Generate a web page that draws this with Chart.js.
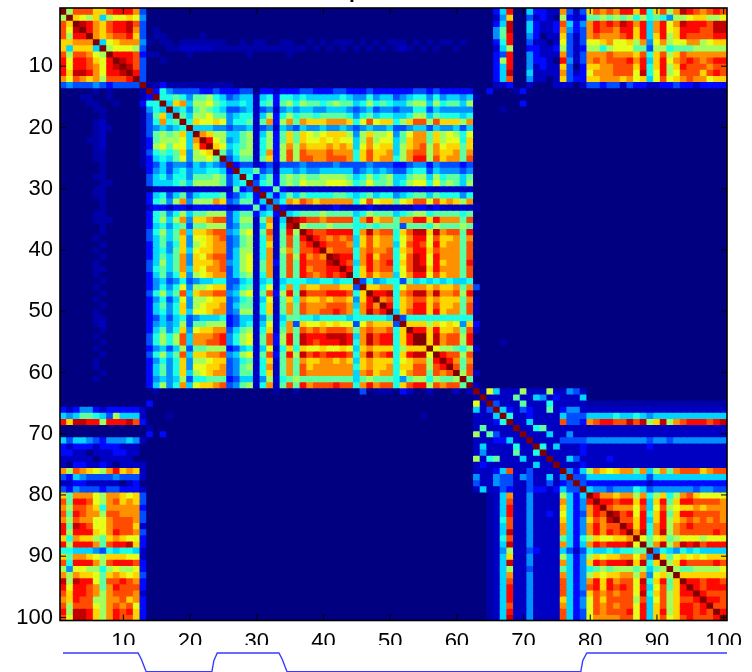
<!DOCTYPE html>
<html>
<head>
<meta charset="utf-8">
<title>Similarity matrix</title>
<script src="https://cdn.jsdelivr.net/npm/chart.js@4/dist/chart.umd.min.js"></script>
<style>
  body { margin: 0; background: #fff; }
  #wrap { position: relative; width: 752px; height: 672px; overflow: hidden; }
  canvas { position: absolute; left: 0; filter: blur(0.4px); }
  #matrixChart { top: 0; }
  #groupChart { top: 645px; background: #fff; }
</style>
</head>
<body>
<div id="wrap">
  <canvas id="matrixChart" width="752" height="672"></canvas>
  <canvas id="groupChart" width="752" height="27"></canvas>
</div>
<script>
const xTicks = [10, 20, 30, 40, 50, 60, 70, 80, 90, 100]
const yTicks = [10, 20, 30, 40, 50, 60, 70, 80, 90, 100]

// lower triangle of the symmetric matrix, one hex digit per cell, 0 = navy .. f = dark red
// n = barely above navy. spaces every 10 columns just to keep the counting sane
const cellRows = [
  `f`,
  `8f`,
  `caf`,
  `c9ef`,
  `c8ddf`,
  `aabbbf`,
  `a5aaa5f`,
  `c8ccb98f`,
  `d9ddca9df`,
  `d9ddcb9def`,
  `daeedb9dde f`,
  `b9cbab8ccc df`,
  `3433343233 33f`,
  `00000n0n00 00nf`,
  `000nn00n00 00n2f`,
  `0000nn00n0 00266f`,
  `00000nn000 00n465f`,
  `000000n000 00n37a5f`,
  `00000n1000 00n36b67f`,
  `00000n1n00 00n345456f`,
  `00000n1000 00n37878a5 f`,
  `0000nn1000 00n2788895 bf`,
  `00000n1000 00n2897995 adf`,
  `00000nn000 00n36767a4 89af`,
  `00000nn000 00n2565794 8897f`,
  `000000n000 00n2353443 54543f`,
  `000000n000 0002453564 556652f`,
  `00000nn000 0003564664 7778735f`,
  `000000nn00 0003555675 88887356f`,
  `00000nn000 0000111111 111111723f`,
  `00000nn000 0002563573 5666723562 f`,
  `000000n000 00026748b4 888ba34772 5f`,
  `000000n000 0001221221 2222211227 24f`,
  `00000nn000 0002674685 7788835772 562f`,
  `00000nnn00 00026858b4 aabcc35881 7b15f`,
  `000000n000 0002564673 7788834771 5a16ef`,
  `000000n000 00036857b5 aabcc45891 7c17d8f`,
  `00000n0000 00035757a4 99abc34781 6b17c7df`,
  `000000n000 00025746a4 89abb34781 6a17c7cdf`,
  `00000n0000 00025647a5 9aabb35881 6b18b7ccdf`,
  `000000n000 00025757b4 a9bcc35891 6b17c8dbcb f`,
  `00000n0000 00035857b4 aaabc45891 7b27c7dccc ef`,
  `00000nn000 00036757b5 a9bbc35891 7b17c7dbcc ddf`,
  `00000n0000 00025746a4 89abb35781 6b17c7dcbc dcdf`,
  `000000n000 0002453463 4556633561 5615666556 6566f`,
  `00000n0000 0002464694 889aa34671 6916b6baab bbaa3f`,
  `000000n000 00036857c5 abbcc45891 7c28d7eccc dddc6af`,
  `00000n0000 0002463594 889aa34671 5917a6baab abba4adf`,
  `000000n000 00025746a4 89aab35771 6a17b7cbbb cccb5bdbf`,
  `00000n0000 00025646a5 99abb34881 6a17b7cbbc cdcb6becdf`,
  `00000nn000 0002353563 4555623551 4715776656 6665666665 f`,
  `00000n1000 0002454583 7788823561 5916b3a99a 9a9939baaa 3f`,
  `000000n000 00025746a4 9aabb35781 6a17b7cbcb cccb7bcbbc 6af`,
  `00000n0000 00036868c5 bbbcd46891 7c28d7eddd eeed5becdd 6adf`,
  `000000n000 00036868c5 bbccd46891 7c28d7edcd dded6becdd 6adff`,
  `00000n0000 0002453583 7788823561 5916a6a99a 99a95abaaa 68aaaf`,
  `000000n000 00036857c5 aabbc45891 7c27d8ecdc dddc6bebcd 6adee9f`,
  `00000n0000 00024646a4 889aa34671 6a17b7baab baba5abaaa 69abb8df`,
  `00000n0000 00025746a4 99aab34781 6b17b7cabb bbbb6abaab 6aacc8cdf`,
  `000000n000 00025746a5 89abb34771 6a17b7cbbb bbbb5bcabb 69bcc7cbcf`,
  `00000n0000 0002454583 6677723551 4816787777 7777578777 6478868778 f`,
  `0000000000 00025846b5 9aabc34781 6b17c7dbcc cdcc6bdbcc 6acdd8cbcc 7f`,
  `0000000000 0000n00000 0000000000 00n00n0000 000003 0nnn 0210010001 01f`,
  `0000000000 0000000000 0000000000 0000000000 0000000000 0000000000 00nf`,
  `0000000000 0002000000 0000000000 0000000000 0000000000 0000000000 0091f`,
  `2124421222 2210000000 0000000000 0000000000 0000000000 0000000000 00513f`,
  `5457765385 551000n000 0000000000 0000000000 0000000000 0000n00000 001115f`,
  `daeedd8ddd ec20000000 0000000000 0000000000 0000000000 0000000000 0011126f`,
  `0000000000 000n000000 0000000000 0000000000 0000000000 0000000000 00171111f`,
  `0000000000 0002020000 0000000000 0000000000 0000000000 0000000000 008173111f`,
  `5355432444 5410000000 0000000000 0000000000 0000000000 0000000000 0011122511 f`,
  `2122212221 1100000000 0000000000 0000000000 0000000000 0000000000 0015111161 1f`,
  `2211011122 1100000000 0000000000 0000000000 0000000000 0000000000 0014111171 16f`,
  `1111101111 1000000000 0000000000 0000000000 0000000000 0000000000 0081671115 111f`,
  `1022112101 1110000000 0000000000 0000000000 0000000000 0000000000 0012111111 1511f`,
  `b8cba98bda ba10000000 0000000000 0000000000 0000000000 0000000000 0011125c11 31111f`,
  `3254333343 3310000000 0000000000 0000000000 0000000000 0000000000 0041143314 311514f`,
  `1122111110 1200000000 0000000000 0000000000 0000000000 0000000000 0031143311 3113123f`,
  `3243332332 2210000000 0000000000 0000000000 0000000000 0000000000 0015113211 32212533f`,
  `a7bbb98bba 9a30000000 0000000000 0000000000 0000000000 0000000000 0000n15b11 411118525f`,
  `c7ddc98bca ba30000000 0000000000 0000000000 0000000000 0000000000 0000n15c11 41111b524d f`,
  `b8ccba6bbb bb20000000 0000000000 0000000000 0000000000 0000000000 0000n15d11 41111a524b df`,
  `c7dcbb8ccb bb30000000 0000000000 0000000000 0000000000 0000000000 0000n15d11 411219523b dcf`,
  `b8cbb99bcc cb30000000 0000000000 0000000000 0000000000 0000000000 0000n16c11 41111a524a cbef`,
  `d7edc99bcc ca10000000 0000000000 0000000000 0000000000 0000000000 0000n15c11 41111b524b dbccf`,
  `d8ddda9bdc cb30000000 0000000000 0000000000 0000000000 0000000000 0000n15e11 41111b524b dbdcdf`,
  `a6baa87aba 9920000000 0000000000 0000000000 0000000000 0000000000 0000n16c11 4111175268 a99aabf`,
  `d8dddb7cdd ea20000000 0000000000 0000000000 0000000000 0000000000 0000n15e11 41111b525b dcddde9f`,
  `6655543656 6510000000 0000000000 0000000000 0000000000 0000000000 0000n14811 3211153136 55656677f`,
  `a7bba98aaa 9910000000 0000000000 0000000000 0000000000 0000000000 0000n15a11 4111185248 a9aabb9b4f`,
  `c6dddb8cdd dc20000000 0000000000 0000000000 0000000000 0000000000 0000n15e11 41111b524a dcdddeae6a f`,
  `8499886898 8920000000 0000000000 0000000000 0000000000 0000000000 0000n15811 3111175246 7878887857 8f`,
  `b8baa97aba 9a30000000 0000000000 0000000000 0000000000 0000000000 0000n15b11 41111b5248 a9aabb8b49 a8f`,
  `e8edd97ccd cb20000000 0000000000 0000000000 0000000000 0000000000 0000n15c11 41111c524b dadbcc9e6a d7af`,
  `d9ddcb7bdc cc20000000 0000000000 0000000000 0000000000 0000000000 0000n15d11 41111c524c dadcdc9d59 c7adf`,
  `caddcb8bcc cb10000000 0000000000 0000000000 0000000000 0000000000 0000n15d11 41111c523a cbcbcc9e6a c8addf`,
  `badcc88bbc ab20000000 0000000000 0000000000 0000000000 0000000000 0000n15d11 41111a5249 cacccc8c59 c8accdf`,
  `c8ccc98bcb c920000000 0000000000 0000000000 0000000000 0000000000 0000n15c11 41111b5249 cbcbcc9d5a c8addcdf`,
  `d8eeda8bdc da20000000 0000000000 0000000000 0000000000 0000000000 0000n15d11 41111c5239 cbcccd9d5a d8addcdcf`,
  `c9eeda8bdc ca20000000 0000000000 0000000000 0000000000 0000000000 0000n15e11 41111c5239 bbbbcc9d5a c9acdcccdf`
]

// strip under the matrix: group indicator
const lineX = [1, 12.2, 12.7, 13.4, 23.2, 23.5, 24, 33.2, 33.7, 34.4, 78.2, 78.5, 79.1, 100]
const lineY = [1, 1, 0.65, 0, 0, 0.6, 1, 1, 0.65, 0, 0, 0.6, 1, 1]

const rows = cellRows.map(row => row.replace(/ /g, ``))
rows.forEach((row, i) => {
  if( row.length !== i + 1 ) throw new Error(`row ${i + 1} has ${row.length} cells`)
})
const level = (r, c) => {
  const cell = rows[Math.max(r, c)][Math.min(r, c)]
  return cell === `n` ? 0.6 : parseInt(cell, 16)
}

const jet = t => {
  const part = k => Math.round(255 * Math.min(1, Math.max(0, 1.5 - Math.abs(4 * t - k))))
  return `rgb(${part(3)},${part(2)},${part(1)})`
}

const font = { family: `"Liberation Sans"`, size: 22 }
const positions = rows.map((_, i) => i + 1)

const framePlugin = {
  id: `frame`,
  beforeDatasetsDraw: chart => {
    const { ctx, chartArea: { left, top, width, height } } = chart
    ctx.fillStyle = jet(0)
    ctx.fillRect(left, top, width, height)
  },
  afterDraw: chart => {
    const { ctx, chartArea: { left, right, top, bottom }, scales: { x, y } } = chart
    ctx.save()
    ctx.strokeStyle = `#000`
    ctx.lineWidth = 1
    xTicks.forEach(t => {
      const px = x.getPixelForValue(t - 1)
      ctx.beginPath()
      ctx.moveTo(px, bottom)
      ctx.lineTo(px, bottom - 6)
      ctx.moveTo(px, top)
      ctx.lineTo(px, top + 6)
      ctx.stroke()
    })
    yTicks.forEach(t => {
      const py = y.getPixelForValue(t)
      ctx.beginPath()
      ctx.moveTo(left, py)
      ctx.lineTo(left + 6, py)
      ctx.moveTo(right, py)
      ctx.lineTo(right - 6, py)
      ctx.stroke()
    })
    ctx.lineWidth = 1.6
    ctx.strokeRect(left, top, right - left, bottom - top)
    // title sits above the window, only the tail of the p shows
    ctx.fillStyle = `#000`
    ctx.font = `bold 21px "Liberation Sans"`
    ctx.textAlign = `left`
    ctx.fillText(`p`, 349, -1.7)
    ctx.restore()
  }
}

new Chart(document.getElementById(`matrixChart`), {
  type: `bar`,
  data: {
    labels: positions,
    datasets: rows.map((_, r) => ({
      data: positions.map(() => [r + 0.5, r + 1.5]),
      backgroundColor: positions.map((_, c) => jet(level(r, c) / 15)),
      borderWidth: 0,
      inflateAmount: 0.5
    }))
  },
  options: {
    responsive: false,
    animation: false,
    events: [],
    layout: { padding: { top: 8, right: 25 } },
    datasets: { bar: { grouped: false, categoryPercentage: 1, barPercentage: 1 } },
    plugins: { legend: { display: false }, tooltip: { enabled: false } },
    scales: {
      x: {
        type: `category`,
        grid: { display: false, drawTicks: false },
        border: { display: false },
        afterFit: scale => {
          scale.height = 51.5
          scale.paddingLeft = 0
          scale.paddingRight = 0
        },
        ticks: {
          autoSkip: false,
          maxRotation: 0,
          padding: 8,
          color: `#000`,
          font,
          callback: (value, index) => xTicks.includes(index + 1) ? `${index + 1}` : ``
        }
      },
      y: {
        type: `linear`,
        reverse: true,
        min: 0.5,
        max: 100.5,
        grid: { display: false, drawTicks: false },
        border: { display: false },
        afterFit: scale => {
          scale.width = 60
          scale.paddingTop = 0
          scale.paddingBottom = 0
        },
        afterBuildTicks: scale => { scale.ticks = yTicks.map(value => ({ value })) },
        ticks: { padding: 7, color: `#000`, font }
      }
    }
  },
  plugins: [framePlugin]
})

new Chart(document.getElementById(`groupChart`), {
  type: `line`,
  data: {
    datasets: [{
      data: lineX.map((x, i) => ({ x, y: lineY[i] })),
      borderColor: `#3a3aff`,
      borderWidth: 1.4,
      pointRadius: 0,
      tension: 0,
      clip: false
    }]
  },
  options: {
    responsive: false,
    animation: false,
    events: [],
    layout: { padding: { left: 63, right: 25, top: 8, bottom: 0.3 } },
    plugins: { legend: { display: false }, tooltip: { enabled: false } },
    scales: {
      x: { type: `linear`, min: 1, max: 100, display: false },
      y: { min: 0, max: 1, display: false }
    }
  }
})
</script>
</body>
</html>
